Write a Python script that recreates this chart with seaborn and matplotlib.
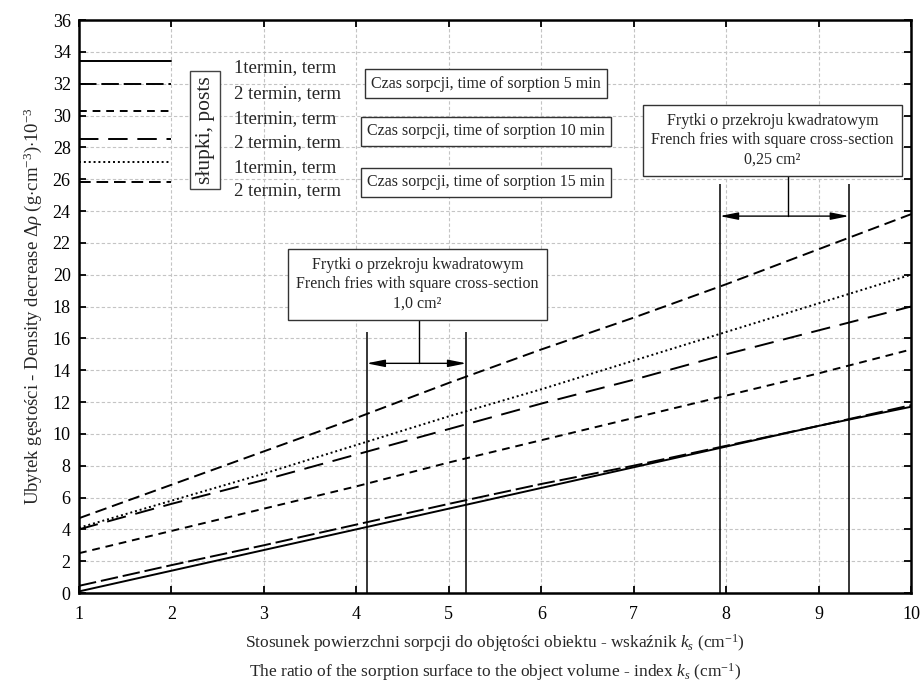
import pandas as pd
import seaborn as sns
import matplotlib.pyplot as plt

# index k_s (cm^-1)
ks = [1, 2, 3, 4, 5, 6, 7, 8, 9, 10]

# density decrease (g/cm3 * 10^-3)
t1_5min = [0.1, 1.4, 2.7, 4.0, 5.3, 6.6, 7.9, 9.2, 10.5, 11.7]
t2_5min = [0.45, 1.75, 3.0, 4.3, 5.6, 6.85, 8.0, 9.25, 10.5, 11.8]
t1_10min = [2.5, 3.9, 5.3, 6.7, 8.2, 9.6, 11.0, 12.4, 13.8, 15.3]
t2_10min = [4.0, 5.6, 7.1, 8.7, 10.3, 11.9, 13.4, 15.0, 16.5, 18.0]
t1_15min = [4.1, 5.8, 7.5, 9.3, 11.1, 12.8, 14.6, 16.4, 18.2, 20.0]
t2_15min = [4.7, 6.8, 8.9, 11.0, 13.2, 15.3, 17.3, 19.4, 21.6, 23.8]

series_names = ["t1_5", "t2_5", "t1_10", "t2_10", "t1_15", "t2_15"]
series_values = [t1_5min, t2_5min, t1_10min, t2_10min, t1_15min, t2_15min]
legend_labels = ["1termin, term", "2 termin, term", "1termin, term",
                 "2 termin, term", "1termin, term", "2 termin, term"]
time_labels = ["Czas sorpcji, time of sorption 5 min",
               "Czas sorpcji, time of sorption 10 min",
               "Czas sorpcji, time of sorption 15 min"]

# french fries size ranges on the k_s axis
range_1cm = [4.11, 5.19]
range_025cm = [7.93, 9.33]

dash_styles = {
    "t1_5": "",
    "t2_5": (9, 2.5),
    "t1_10": (4, 3),
    "t2_10": (10, 5),
    "t1_15": (1, 1.5),
    "t2_15": (6, 3),
}

df = pd.DataFrame(
    [(k, v, name) for name, vals in zip(series_names, series_values) for k, v in zip(ks, vals)],
    columns=["ks", "value", "series"],
)

sns.set_style("ticks")
plt.rcParams["font.family"] = ["Liberation Serif", "DejaVu Serif"]
plt.rcParams["mathtext.fontset"] = "custom"
plt.rcParams["mathtext.rm"] = "Liberation Serif"
plt.rcParams["mathtext.it"] = "Liberation Serif:italic"

fig = plt.figure(figsize=(9.21, 6.93), dpi=100)
ax = fig.add_axes([0.0858, 0.1443, 0.9034, 0.8268])

sns.lineplot(
    data=df, x="ks", y="value", hue="series", style="series",
    palette={n: "black" for n in series_names}, dashes=dash_styles,
    linewidth=1.4, legend=False, ax=ax,
)

ax.set_xlim(1, 10)
ax.set_ylim(0, 36)
ax.set_xticks(range(1, 11))
ax.set_yticks(range(0, 37, 2))
ax.grid(True, ls=(0, (3, 2)), color="#c4c4c4", lw=0.8)
ax.tick_params(direction="in", top=True, right=True, length=5, width=1.3,
               labelsize=13, colors="black", pad=6)
ax.tick_params(axis="x", pad=9)
for sp in ax.spines.values():
    sp.set_linewidth(1.8)
    sp.set_color("black")

ax.set_ylabel("Ubytek gęstości - Density decrease $\\mathit{\\Delta\\rho}$ "
              "(g$\\cdot$cm$^{-3}$)$\\cdot$10$^{-3}$", fontsize=13.5, labelpad=6)
ax.set_xlabel("Stosunek powierzchni sorpcji do objętości obiektu - wskaźnik $k_s$ (cm$^{-1}$)\n"
              "The ratio of the sorption surface to the object volume - index $k_s$ (cm$^{-1}$)",
              fontsize=12.5, labelpad=7, linespacing=1.45)

# legend block drawn by hand, as in the reference
key_y = [33.4, 32.0, 30.3, 28.5, 27.1, 25.8]
label_y = [33.0, 31.4, 29.8, 28.3, 26.7, 25.3]
for name, yk, yl, lab in zip(series_names, key_y, label_y, legend_labels):
    ax.plot([1.0, 2.0], [yk, yk], color="black", lw=1.4, dashes=dash_styles[name] or (None, None))
    ax.text(2.68, yl, lab, fontsize=13.5, ha="left", va="center")

ax.text(2.365, 29.1, "słupki, posts", rotation=90, fontsize=15.5, ha="center", va="center",
        bbox=dict(boxstyle="square,pad=0.25", fc="white", ec="#444444", lw=1))

for yb, lab in zip([32.0, 29.0, 25.8], time_labels):
    ax.text(5.4, yb, lab, fontsize=11.5, ha="center", va="center",
            bbox=dict(boxstyle="square,pad=0.4", fc="white", ec="#333333", lw=1))

# size range markers with captions
ranges = [
    (range_1cm, 16.4, 14.43, 17.2, 4.66, 19.4, "1,0 cm²"),
    (range_025cm, 25.7, 23.68, 26.26, 8.5, 28.45, "0,25 cm²"),
]
for (x0, x1), top, ya, yb, xc, yc, size in ranges:
    ax.vlines([x0, x1], 0, top, color="black", lw=1.1)
    ax.annotate("", xy=(x0, ya), xytext=(x1, ya),
                arrowprops=dict(arrowstyle="<|-|>,head_width=0.22,head_length=1.1",
                                color="black", lw=1, shrinkA=0, shrinkB=0))
    xm = x0 + 0.53 * (x1 - x0)
    ax.plot([xm, xm], [ya, yb], color="black", lw=1)
    ax.text(xc, yc, "Frytki o przekroju kwadratowym\nFrench fries with square cross-section\n" + size,
            fontsize=11.5, ha="center", va="center", linespacing=1.3,
            bbox=dict(boxstyle="square,pad=0.5", fc="white", ec="#333333", lw=1))

plt.savefig("out.png", dpi=100)
